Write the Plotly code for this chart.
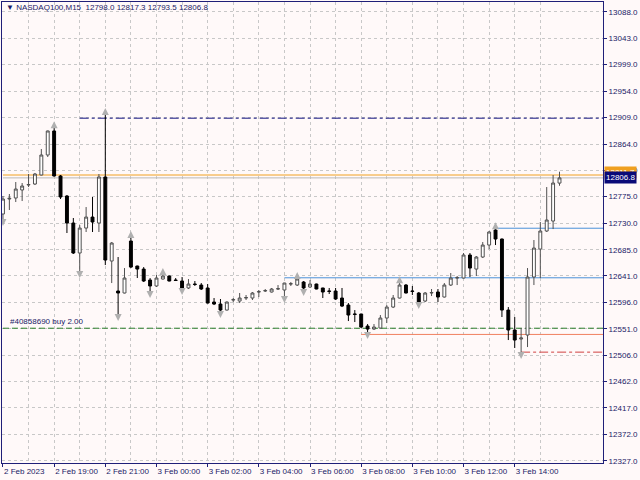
import plotly.graph_objects as go

# NASDAQ100 M15 candles, bar index 0..87
opens = [12745.6, 12771.0, 12772.7, 12786.3, 12794.7, 12796.4, 12811.7, 12845.6, 12886.3, 12810.0,
         12776.1, 12730.3, 12679.5, 12721.8, 12740.4, 12730.3, 12808.3, 12665.9, 12615.1, 12611.7,
         12699.8, 12657.4, 12652.3, 12633.7, 12623.6, 12635.4, 12640.5, 12633.7, 12632.0, 12620.2,
         12626.9, 12625.2, 12620.2, 12596.4, 12593.0, 12582.8, 12599.8, 12598.1, 12603.2, 12603.2,
         12613.4, 12615.1, 12613.4, 12618.5, 12616.8, 12626.9, 12625.2, 12630.3, 12621.9, 12626.9,
         12620.2, 12615.1, 12615.1, 12603.2, 12591.3, 12576.1, 12576.1, 12555.7, 12550.6, 12552.3,
         12569.3, 12587.9, 12603.2, 12625.2, 12615.1, 12611.7, 12598.1, 12611.7, 12613.4, 12604.9,
         12625.2, 12637.1, 12637.1, 12676.1, 12652.3, 12672.7, 12693.0, 12718.5, 12703.2, 12582.8,
         12549.0, 12533.7, 12540.5, 12638.8, 12686.2, 12716.8, 12733.7, 12798.0]
highs = [12776.1, 12779.5, 12799.8, 12798.1, 12813.4, 12815.1, 12855.7, 12887.0, 12893.0, 12811.7,
         12777.8, 12738.8, 12726.9, 12757.4, 12774.4, 12813.4, 12915.1, 12698.1, 12672.7, 12654.0,
         12706.6, 12658.0, 12655.7, 12637.1, 12642.2, 12644.0, 12641.5, 12637.1, 12638.8, 12635.4,
         12632.0, 12628.6, 12626.9, 12603.2, 12601.5, 12597.5, 12603.2, 12611.7, 12608.3, 12613.4,
         12616.8, 12618.5, 12620.2, 12625.2, 12629.0, 12630.3, 12637.1, 12632.0, 12633.7, 12627.5,
         12620.5, 12620.2, 12620.2, 12620.2, 12594.7, 12582.8, 12576.5, 12559.1, 12559.1, 12574.4,
         12591.3, 12608.3, 12630.3, 12626.9, 12623.6, 12613.4, 12613.4, 12618.5, 12618.5, 12628.6,
         12645.6, 12640.5, 12679.5, 12679.5, 12674.4, 12698.1, 12716.8, 12721.8, 12704.0, 12587.9,
         12571.0, 12552.3, 12654.0, 12701.5, 12732.0, 12791.3, 12811.7, 12817.3]
lows = [12735.4, 12752.4, 12765.9, 12767.6, 12791.3, 12794.7, 12811.0, 12842.2, 12809.0, 12771.0,
        12713.4, 12677.8, 12647.3, 12715.1, 12715.1, 12715.1, 12659.1, 12628.6, 12574.4, 12611.0,
        12654.0, 12637.1, 12630.3, 12613.4, 12621.9, 12634.5, 12631.5, 12632.0, 12618.5, 12618.5,
        12623.6, 12616.8, 12594.0, 12591.3, 12579.5, 12582.0, 12596.4, 12594.7, 12599.8, 12599.8,
        12604.9, 12613.4, 12612.5, 12616.8, 12604.9, 12623.6, 12623.6, 12616.8, 12620.2, 12618.0,
        12603.2, 12610.0, 12599.8, 12587.9, 12564.2, 12562.5, 12552.3, 12543.9, 12549.0, 12551.5,
        12560.8, 12586.2, 12602.5, 12611.0, 12608.3, 12594.7, 12596.4, 12606.6, 12596.4, 12604.0,
        12623.6, 12625.2, 12636.5, 12638.8, 12640.5, 12671.0, 12686.2, 12693.0, 12571.0, 12532.0,
        12518.5, 12510.0, 12520.1, 12625.2, 12637.1, 12715.1, 12720.1, 12793.5]
closes = [12771.0, 12772.2, 12787.9, 12793.0, 12795.6, 12813.4, 12845.6, 12886.3, 12810.0, 12774.4,
          12730.3, 12679.5, 12721.8, 12740.4, 12732.0, 12808.3, 12667.6, 12696.4, 12611.7, 12637.1,
          12655.7, 12652.3, 12632.0, 12623.6, 12637.1, 12640.5, 12632.0, 12633.0, 12620.2, 12626.9,
          12626.2, 12618.5, 12594.7, 12593.0, 12582.8, 12596.4, 12600.5, 12603.2, 12604.0, 12611.7,
          12614.0, 12615.8, 12618.5, 12619.0, 12628.6, 12627.5, 12635.4, 12620.2, 12626.9, 12618.5,
          12613.4, 12614.5, 12601.5, 12589.6, 12574.4, 12575.5, 12554.0, 12550.6, 12554.0, 12569.3,
          12587.9, 12603.2, 12625.2, 12611.7, 12614.5, 12596.4, 12611.7, 12612.5, 12604.9, 12625.2,
          12637.1, 12637.8, 12676.1, 12654.0, 12672.7, 12693.0, 12715.1, 12703.2, 12582.8, 12549.0,
          12532.0, 12535.4, 12638.8, 12687.9, 12716.8, 12735.4, 12798.1, 12806.8]

fractal_up = [8, 16, 20, 25, 46, 62, 77]
fractal_down = [0, 12, 18, 23, 28, 34, 44, 47, 57, 65, 81]

time_bars = [0, 8, 16, 24, 32, 40, 48, 56, 64, 72, 80]
time_labels = ["2 Feb 2023", "2 Feb 19:00", "2 Feb 21:00", "3 Feb 00:00", "3 Feb 02:00",
               "3 Feb 04:00", "3 Feb 06:00", "3 Feb 08:00", "3 Feb 10:00", "3 Feb 12:00",
               "3 Feb 14:00"]
price_ticks = [13088.0, 13043.0, 12999.0, 12954.0, 12909.0, 12864.0, 12820.0, 12775.0, 12730.0,
               12685.0, 12641.0, 12596.0, 12551.0, 12506.0, 12462.0, 12417.0, 12372.0, 12327.0]

# horizontal levels: (price, start bar, colour, dash)
levels = [
    (12908.0, 12, "#10107e", "dashdot"),
    (12811.7, 0, "#f0a020", "solid"),
    (12806.8, 0, "#b8b8b8", "solid"),
    (12721.5, 77, "#4a90d9", "solid"),
    (12637.5, 44, "#4a90d9", "solid"),
    (12552.0, 0, "#2a7d2a", "6px,3px"),
    (12541.5, 56, "#f08060", "solid"),
    (12511.5, 81, "#d04040", "dashdot"),
]
ask_price = 12811.7
bid_price = 12806.8
order_label = "#40858690 buy 2.00"
order_price = 12552.0

NAVY = "#1f1f78"
TEXT = "#1a1a66"
BG = "#fff9f9"
FONT = "Liberation Sans"
x_max = 93.8
bars = list(range(len(opens)))

fig = go.Figure()

fig.add_trace(go.Candlestick(
    x=bars, open=opens, high=highs, low=lows, close=closes,
    increasing=dict(line=dict(color="#505050", width=1), fillcolor="#ffffff"),
    decreasing=dict(line=dict(color="#000000", width=1), fillcolor="#000000"),
    whiskerwidth=0, hoverinfo="skip", showlegend=False,
))

off = 10
fig.add_trace(go.Scatter(
    x=fractal_up, y=[highs[i] + off for i in fractal_up], mode="markers",
    marker=dict(symbol="arrow-up", size=7, color="#b0b0b0"),
    hoverinfo="skip", showlegend=False,
))
fig.add_trace(go.Scatter(
    x=fractal_down, y=[lows[i] - off for i in fractal_down], mode="markers",
    marker=dict(symbol="arrow-down", size=7, color="#b0b0b0"),
    hoverinfo="skip", showlegend=False,
))

# level lines sit above the dotted grid but under the candles
for price, start, color, dash in levels:
    fig.add_shape(type="line", xref="x", yref="y", x0=start, x1=x_max, y0=price, y1=price,
                  line=dict(color=color, width=1, dash=dash), layer="between")

fig.add_annotation(xref="paper", yref="y", x=0.01, y=order_price, xanchor="left", yanchor="bottom",
                   text=order_label, showarrow=False, font=dict(family=FONT, size=8, color=TEXT))

fig.add_annotation(xref="paper", yref="paper", x=0.003, y=0.987, xanchor="left", yanchor="middle",
                   text="\u25bc NASDAQ100,M15  12798.0 12817.3 12793.5 12806.8",
                   showarrow=False, font=dict(family=FONT, size=8, color=TEXT))

# price boxes on the axis
fig.add_annotation(xref="paper", yref="y", x=1.0, y=ask_price, xanchor="left", yanchor="bottom",
                   text="12811.7", showarrow=False, bgcolor="#f0a020", borderpad=1,
                   font=dict(family=FONT, size=8, color="#ffffff"), xshift=1, yshift=-4)
fig.add_annotation(xref="paper", yref="y", x=1.0, y=bid_price, xanchor="left", yanchor="middle",
                   text=f"{bid_price:.1f}", showarrow=False, bgcolor="#0a0a78", borderpad=1,
                   font=dict(family=FONT, size=8, color="#ffffff"), xshift=1)

fig.update_layout(
    width=640, height=480,
    margin=dict(l=2, r=37, t=2, b=17, autoexpand=False),
    paper_bgcolor=BG, plot_bgcolor=BG,
    font=dict(family=FONT, size=8, color=TEXT),
    xaxis=dict(
        range=[-0.15, x_max], rangeslider=dict(visible=False), automargin=False,
        tickvals=time_bars, ticktext=time_labels, ticklabelposition="outside right",
        tickangle=0, ticks="outside", ticklen=3, tickcolor=NAVY,
        showgrid=True, gridcolor="#c8c8c8", griddash="3px,3px", gridwidth=1,
        minor=dict(tickvals=[b + 4 for b in time_bars], showgrid=True, gridcolor="#c8c8c8",
                   griddash="3px,3px", ticks=""),
        showline=True, linecolor=NAVY, linewidth=1, mirror=True, zeroline=False,
        tickfont=dict(family=FONT, size=8, color=TEXT),
    ),
    yaxis=dict(
        side="right", range=[12323.6, 13104.9], automargin=False,
        tickvals=price_ticks, ticktext=[f"{p:.1f}" for p in price_ticks],
        ticks="outside", ticklen=3, tickcolor=NAVY,
        showgrid=True, gridcolor="#c8c8c8", griddash="3px,3px", gridwidth=1,
        showline=True, linecolor=NAVY, linewidth=1, mirror=True, zeroline=False,
        tickfont=dict(family=FONT, size=8, color=TEXT),
    ),
    boxgap=0.35,
)

# page has an 8px body margin by default; drop it so the chart fills the window
fig.write_html("out.html", config={"displayModeBar": False},
               post_script="document.body.style.margin='0';")
